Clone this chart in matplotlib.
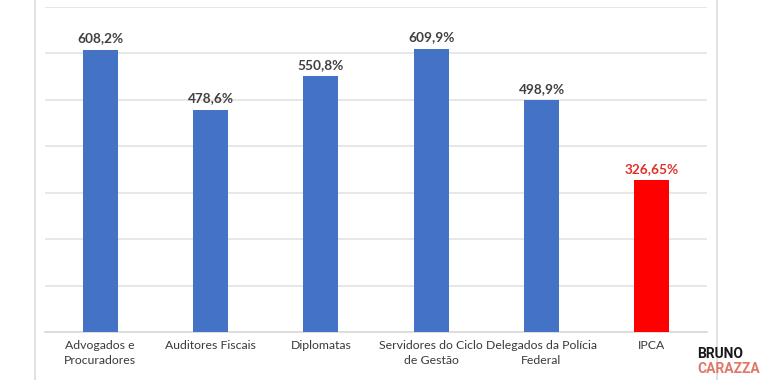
import matplotlib.pyplot as plt
from matplotlib.lines import Line2D
from matplotlib import font_manager

# data
categorias = ["Advogados e\nProcuradores", "Auditores Fiscais", "Diplomatas",
              "Servidores do Ciclo\nde Gestão", "Delegados da Polícia\nFederal", "IPCA"]
valores = [608.2, 478.6, 550.8, 609.9, 498.9, 326.65]
rotulos = ["608,2%", "478,6%", "550,8%", "609,9%", "498,9%", "326,65%"]
cores = ["#4472C4"] * 5 + ["#FF0000"]
cores_rotulo = ["#404040"] * 5 + ["#E0302A"]

plt.rcParams['font.family'] = ['Lato', 'DejaVu Sans']

# fonte estreita para o logo, se houver
nomes = {f.name for f in font_manager.fontManager.ttflist}
fonte_logo = ['Liberation Sans Narrow', 'Roboto', 'DejaVu Sans']
fonte_logo = [f for f in fonte_logo if f in nomes] or ['DejaVu Sans']

fig = plt.figure(figsize=(7.68, 3.8), dpi=100)
ax = fig.add_axes([45 / 768, 48 / 380, 662 / 768, 325 / 380])

x = range(len(categorias))
barras = ax.bar(x, valores, width=0.32, color=cores, zorder=3)

for b, txt, c in zip(barras, rotulos, cores_rotulo):
    ax.text(b.get_x() + b.get_width() / 2, b.get_height() + 12, txt,
            ha="center", va="bottom", fontsize=9.8, fontweight="bold", color=c)

ax.set_xlim(-0.5, len(categorias) - 0.5)
ax.set_ylim(0, 700)
ax.set_yticks(range(0, 701, 100))
ax.yaxis.grid(True, color="#e3e3e3", linewidth=1.2, zorder=0)
ax.tick_params(axis="y", left=False, labelleft=False)
ax.tick_params(axis="x", length=0, pad=6)
ax.set_xticks(list(x))
ax.set_xticklabels(categorias, fontsize=8.8, color="#3a3a3a", linespacing=1.4)
for s in ["top", "right", "left"]:
    ax.spines[s].set_visible(False)
ax.spines["bottom"].set_color("#d9d9d9")
ax.spines["bottom"].set_linewidth(1.2)

# borda do gráfico
for xp in (35, 717):
    fig.add_artist(Line2D([xp / 768, xp / 768], [0, 1], color="#dcdcdc", linewidth=1.2))

# logo
fig.text(697 / 768, 1 - 354 / 380, "BRUNO", fontsize=10, fontweight="bold",
         family=fonte_logo, color="#1a1a1a", ha="left", va="center")
fig.text(697 / 768, 1 - 369 / 380, "CARAZZA", fontsize=10, fontweight="bold",
         family=fonte_logo, color="#E07868", ha="left", va="center")

fig.savefig("out.png", dpi=100)
